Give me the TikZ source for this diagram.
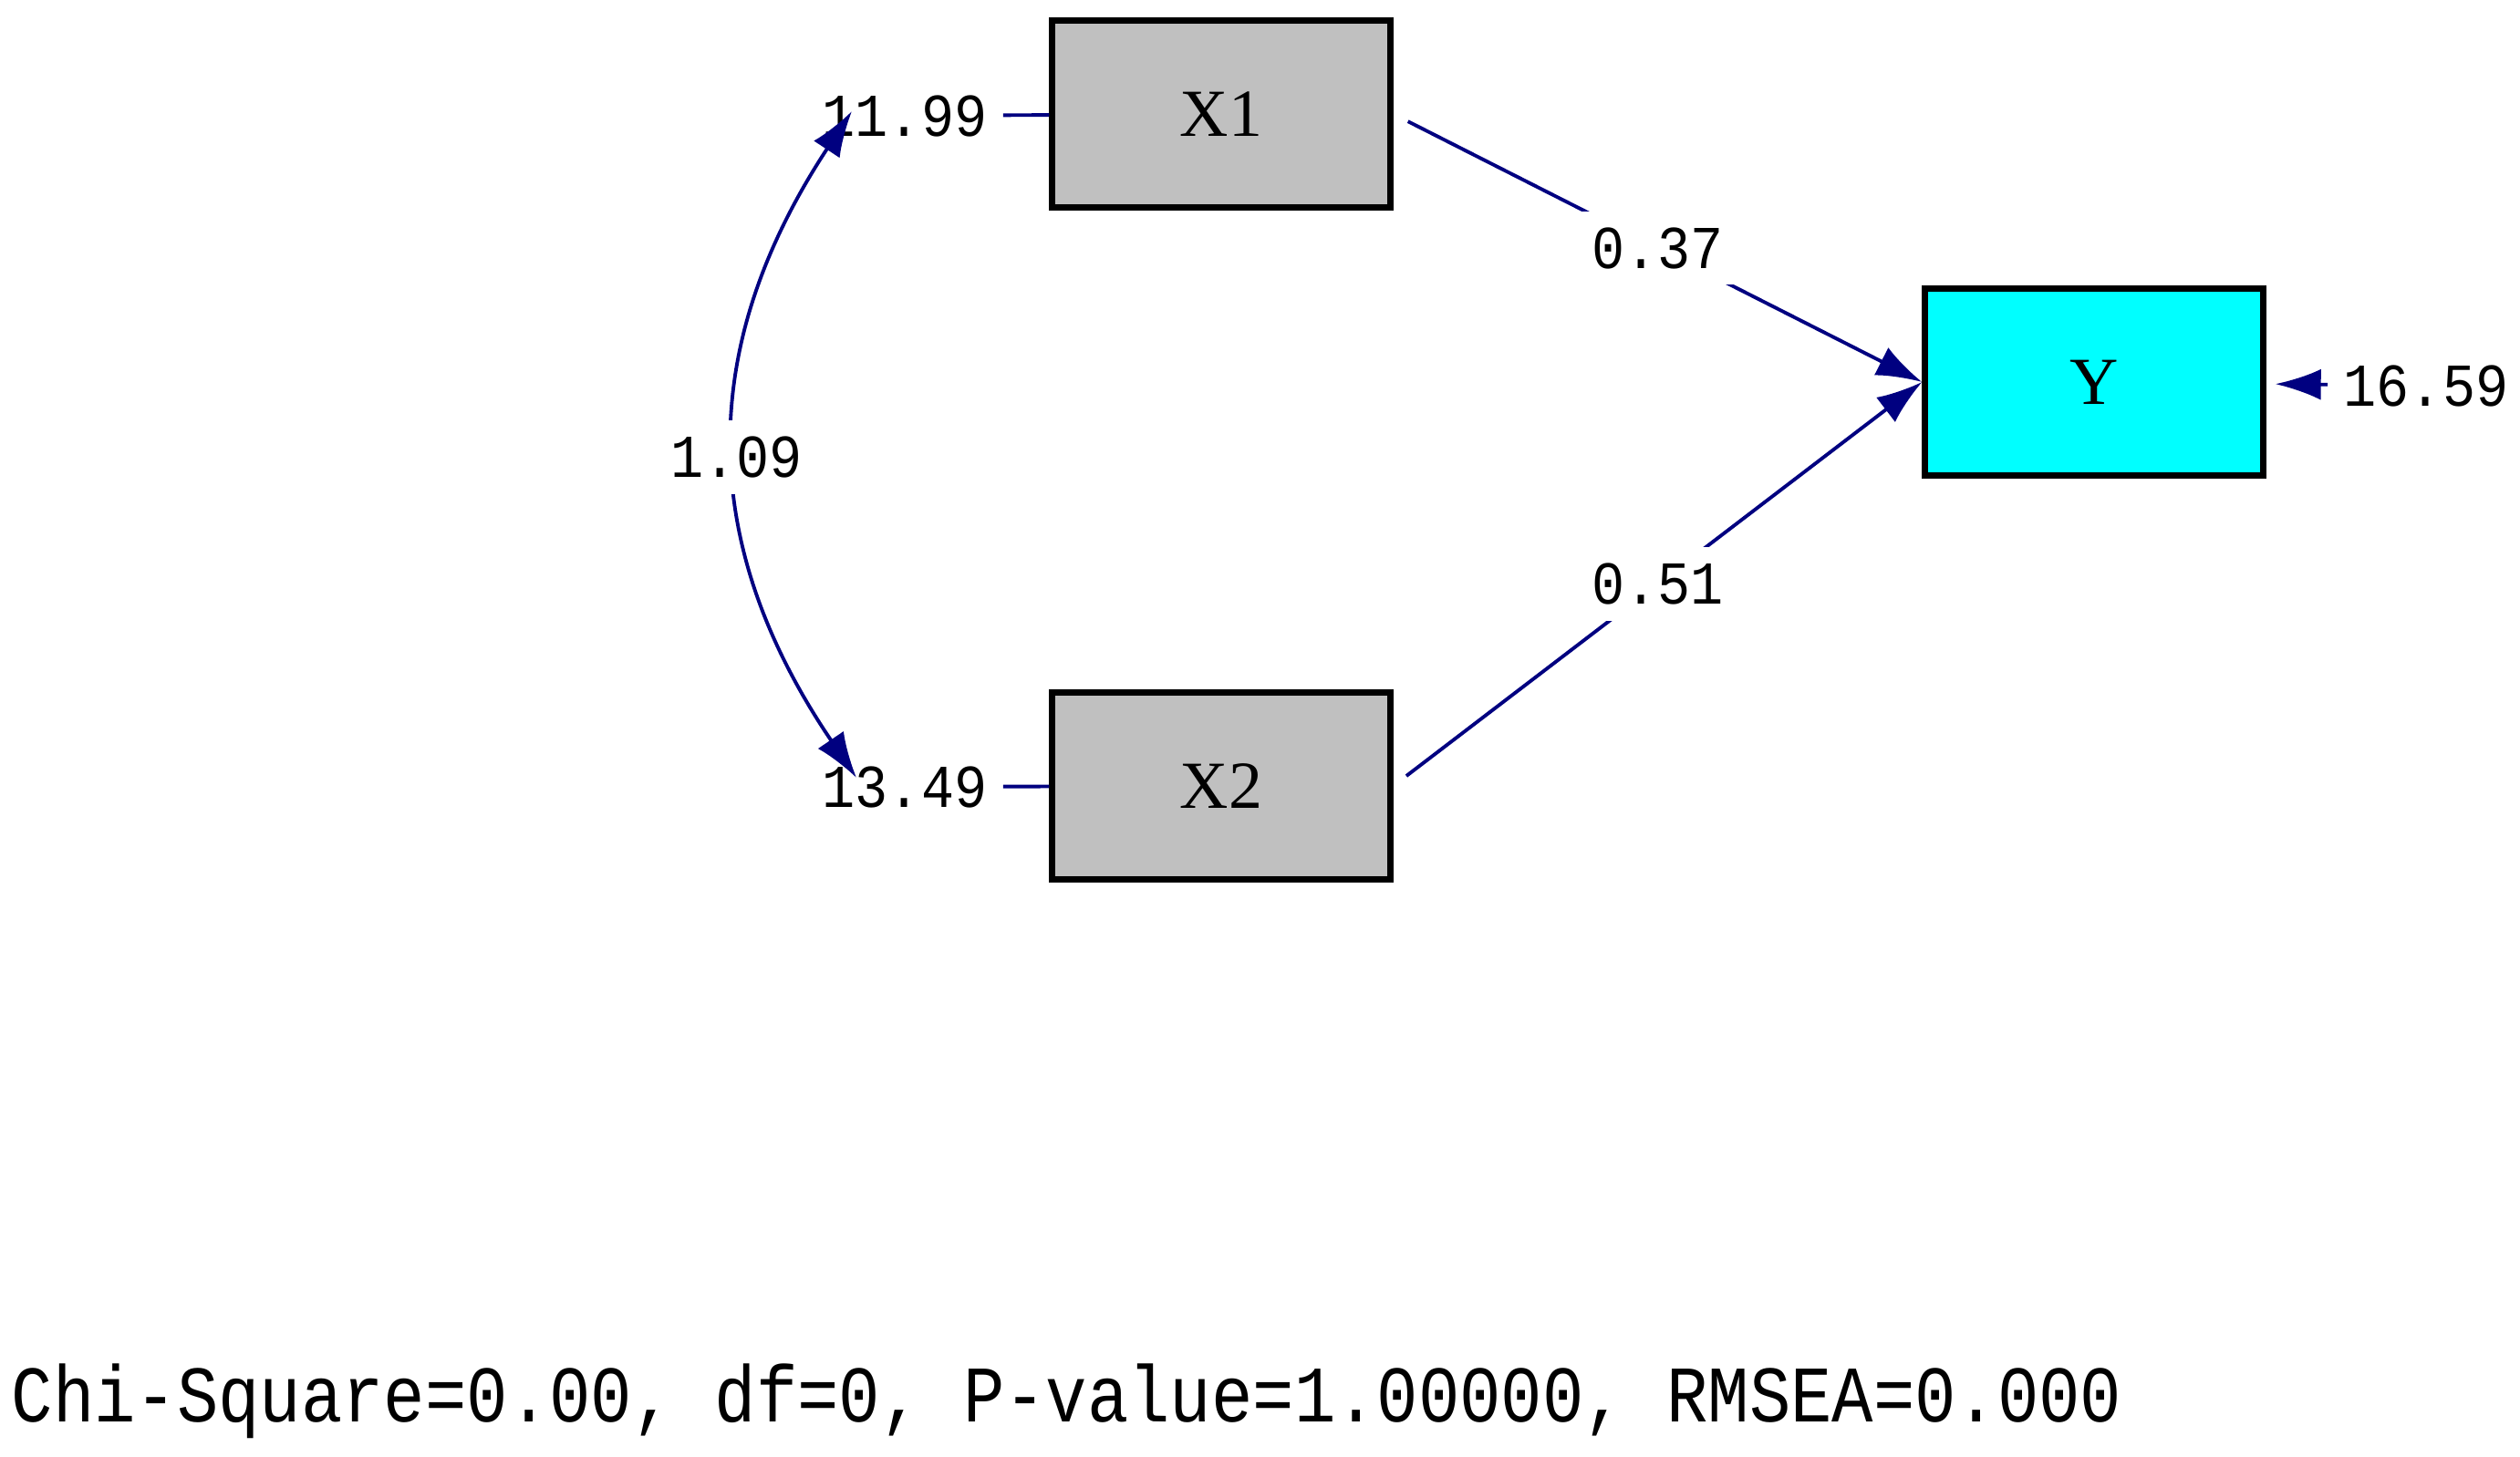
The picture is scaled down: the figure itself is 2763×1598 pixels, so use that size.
\documentclass[tikz,border=0pt]{standalone}
\usepackage{fontspec}
\newfontfamily\estfont[FakeStretch=0.9]{Liberation Mono}
\newfontfamily\fitfont[FakeStretch=0.86]{Liberation Mono}
\newfontfamily\varfont{Liberation Serif}
\usetikzlibrary{arrows.meta}
\definecolor{linkblue}{RGB}{0,0,128}
\definecolor{boxgray}{RGB}{192,192,192}
\definecolor{boxcyan}{RGB}{0,255,255}
\begin{document}
\begin{tikzpicture}[x=0.01cm,y=-0.01cm,
    var/.style={draw=black,line width=2pt,minimum width=3.7cm,minimum height=2.05cm,
        font=\varfont\fontsize{21}{21}\selectfont},
    est/.style={text=black,font=\estfont\fontsize{19}{19}\selectfont,inner sep=2pt},
    onlink/.style={est,fill=white,inner sep=5pt},
    link/.style={linkblue,line width=1.1pt},
    head/.tip={Latex[length=0.5cm,width=0.34cm]},
    arr/.style={-head}]
    \useasboundingbox (0,0) rectangle (2763,1598);
    % variables
    \node[var,fill=boxgray] (X1) at (1339,125) {X1};
    \node[var,fill=boxgray] (X2) at (1339,862) {X2};
    \node[var,fill=boxcyan] (Y) at (2296,419) {Y};
    % variances
    \node[est] (e1) at (992,127) {11.99};
    \node[est] (e2) at (992,863) {13.49};
    \node[est] (e3) at (2660,423) {16.59};
    \draw[link,shorten <=0.1cm] (e1) -- (X1);
    \draw[link,shorten <=0.1cm] (e2) -- (X2);
    \draw[link,arr,shorten <=0.1cm,shorten >=0.1cm] (e3) -- (Y);
    % covariance
    \coordinate (c1) at (934,122);
    \coordinate (c2) at (939,853);
    \draw[link,head-head]
        (c1) .. controls (764,380) and (764,595) .. node[onlink,pos=0.52] {1.09} (c2);
    % paths
    \draw[link,arr,shorten <=0.18cm] (X1.east) -- node[onlink] {0.37} (Y.west);
    \draw[link,arr,shorten <=0.18cm] (X2.east) -- node[onlink] {0.51} (Y.west);
    \node[anchor=west,inner sep=0pt,font=\fitfont\fontsize{25}{25}\selectfont] (fit) at (12,1537)
        {Chi-Square=0.00, df=0, P-value=1.00000, RMSEA=0.000};
\end{tikzpicture}
\end{document}
